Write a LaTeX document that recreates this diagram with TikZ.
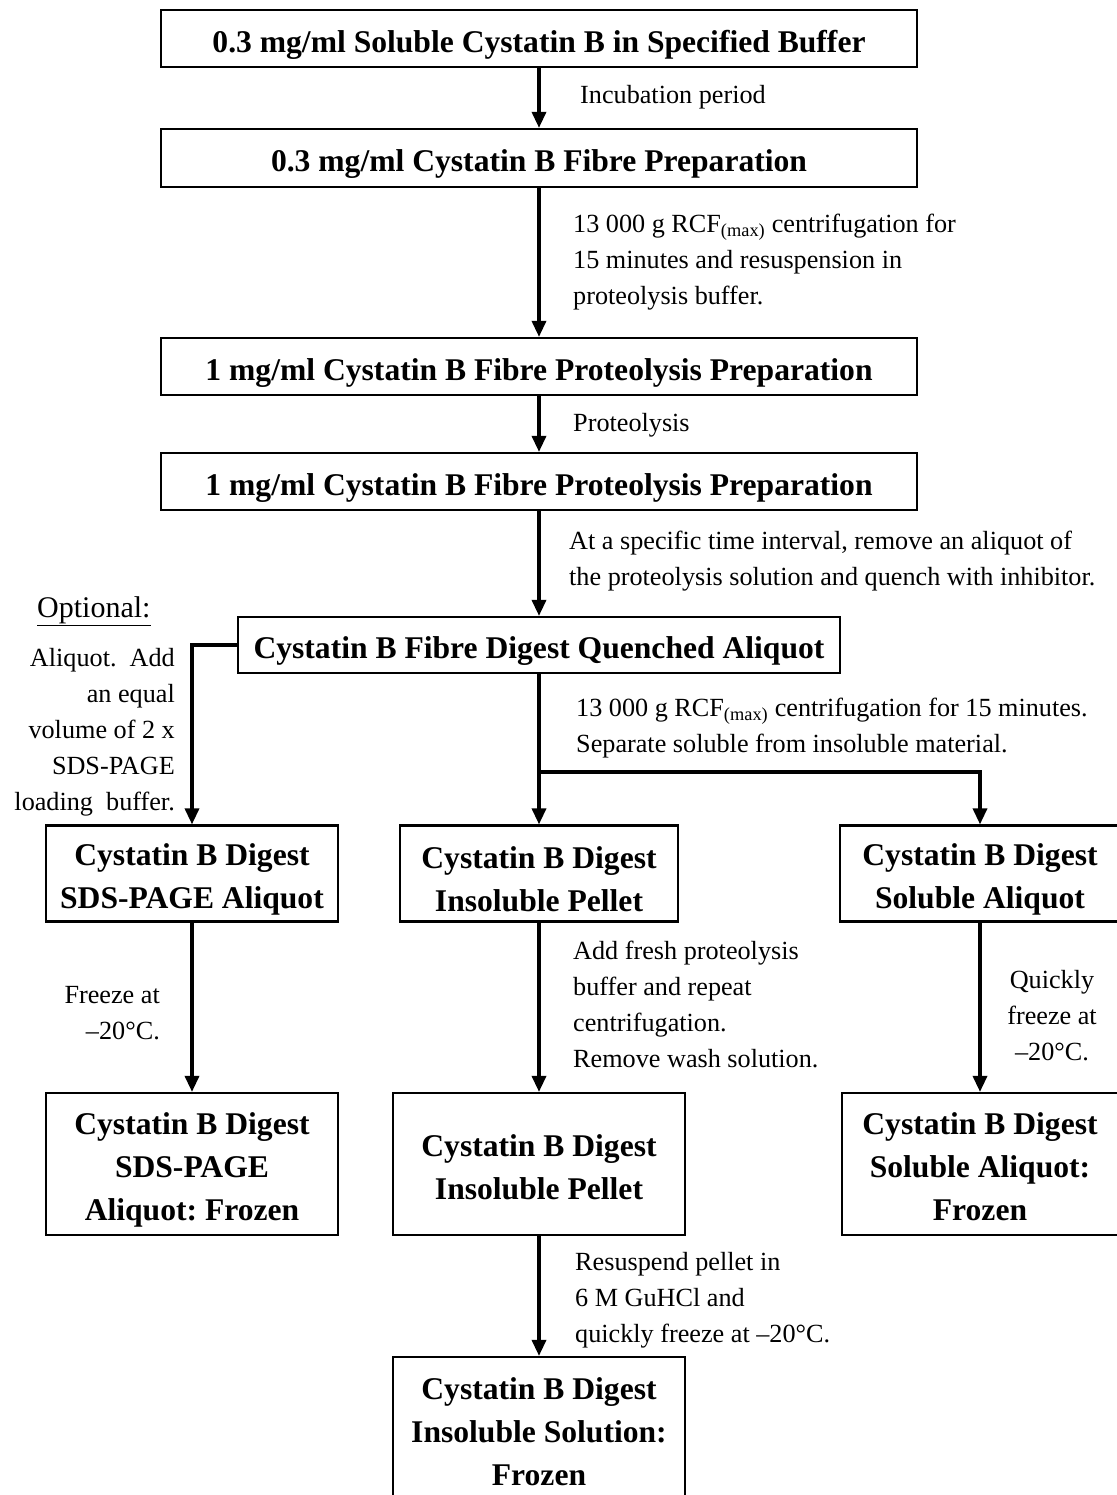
\documentclass[tikz,border=0pt]{standalone}
\usepackage{fontspec}
\setmainfont{Liberation Serif}
\usetikzlibrary{arrows.meta}
\frenchspacing
\newcommand\boxstrut{\rule{0pt}{34pt}}
\newcommand\halfstrut{\rule{0pt}{28pt}}
\begin{document}
\begin{tikzpicture}[x=1pt,y=-1pt,
  box/.style={draw, line width=2.2pt, font=\fontsize{31.6}{43}\selectfont\bfseries, align=center, inner sep=0pt},
  lbl/.style={font=\fontsize{26.2}{36}\selectfont, inner sep=0pt, align=left, anchor=north west},
  arr/.style={line width=3.4pt, -{Triangle[width=14pt,length=16pt]}}]
\useasboundingbox[fill=white] (0,0) rectangle (1116,1495);

\node[box, minimum width=756pt, minimum height=57pt] (b1) at (539,38.5) {\boxstrut 0.3 mg/ml Soluble Cystatin B in Specified Buffer};
\node[box, minimum width=756pt, minimum height=58pt] (b2) at (539,158) {\boxstrut 0.3 mg/ml Cystatin B Fibre Preparation};
\node[box, minimum width=756pt, minimum height=57pt] (b3) at (539,366.5) {\boxstrut 1 mg/ml Cystatin B Fibre Proteolysis Preparation};
\node[box, minimum width=756pt, minimum height=57pt] (b4) at (539,481.5) {\boxstrut 1 mg/ml Cystatin B Fibre Proteolysis Preparation};
\node[box, minimum width=602pt, minimum height=56pt] (b5) at (539,645) {\boxstrut Cystatin B Fibre Digest Quenched Aliquot};
\node[box, minimum width=292pt, minimum height=96pt] (b6) at (192,873.5) {\boxstrut Cystatin B Digest\\SDS-PAGE Aliquot};
\node[box, minimum width=278pt, minimum height=96pt] (b7) at (539,873.5) {\boxstrut Cystatin B Digest\\Insoluble Pellet};
\node[box, minimum width=280pt, minimum height=96pt] (b8) at (980,873.5) {\boxstrut Cystatin B Digest\\Soluble Aliquot};
\node[box, minimum width=292pt, minimum height=142pt] (b9) at (192,1164) {\boxstrut Cystatin B Digest\\SDS-PAGE\\Aliquot: Frozen};
\node[box, minimum width=292pt, minimum height=142pt] (b10) at (539,1164) {\halfstrut Cystatin B Digest\\Insoluble Pellet};
\node[box, minimum width=276pt, minimum height=142pt] (b11) at (980,1164) {\halfstrut Cystatin B Digest\\Soluble Aliquot:\\Frozen};
\node[box, minimum width=292pt, minimum height=150pt] (b12) at (539,1432) {Cystatin B Digest\\Insoluble Solution:\\Frozen};

\coordinate (br) at (539,772);

\draw[arr] (b1) -- (b2);
\draw[arr] (b2) -- (b3);
\draw[arr] (b3) -- (b4);
\draw[arr] (b4) -- (b5);
\draw[arr] (b5.west) -| (b6.north);
\draw[arr] (b5) -- (b7);
\draw[arr] (br) -| (b8.north);
\draw[arr] (b6) -- (b9);
\draw[arr] (b7) -- (b10);
\draw[arr] (b8) -- (b11);
\draw[arr] (b10) -- (b12);

\node[lbl] (l1) at (580,85) {Incubation period};
\node[lbl] (l2) at (573,214) {13 000 g RCF\textsubscript{(max)} centrifugation for\\15 minutes and resuspension in\\proteolysis buffer.};
\node[lbl] (l3) at (573,413) {Proteolysis};
\node[lbl] (l4) at (569,531) {At a specific time interval, remove an aliquot of\\the proteolysis solution and quench with inhibitor.};
\node[lbl, font=\fontsize{30}{36}\selectfont] (opt) at (37,596) {\underline{Optional:}};
\node[lbl, anchor=north east, align=right] (l5) at (175,648) {Aliquot.~ Add\\an equal\\volume of 2 x\\SDS-PAGE\\loading~ buffer.};
\node[lbl] (l6) at (576,698) {13 000 g RCF\textsubscript{(max)} centrifugation for 15 minutes.\\Separate soluble from insoluble material.};
\node[lbl, anchor=north east, align=right] (l7) at (160,986) {Freeze at\\–20°C.};
\node[lbl] (l8) at (573,941) {Add fresh proteolysis\\buffer and repeat\\centrifugation.\\Remove wash solution.};
\node[lbl, anchor=north, align=center] (l9) at (1052,970) {Quickly\\freeze at\\–20°C.};
\node[lbl] (l10) at (575,1252) {Resuspend pellet in\\6 M GuHCl and\\quickly freeze at –20°C.};
\end{tikzpicture}
\end{document}
